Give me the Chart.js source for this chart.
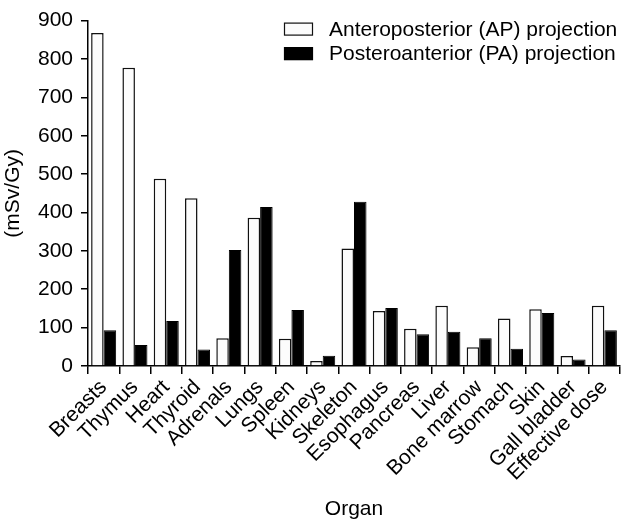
<!DOCTYPE html>
<html>
<head>
<meta charset="utf-8">
<script src="https://cdn.jsdelivr.net/npm/chart.js@4/dist/chart.umd.min.js"></script>
<style>
  html, body { margin: 0; padding: 0; background: #fff; }
  #wrap { width: 624px; height: 522px; }
</style>
</head>
<body>
<div id="wrap"><canvas id="chart" width="624" height="522"></canvas></div>
<script>
// Organ dose conversion coefficients for two projections (mSv/Gy)
const organs = ["Breasts", "Thymus", "Heart", "Thyroid", "Adrenals", "Lungs", "Spleen",
  "Kidneys", "Skeleton", "Esophagus", "Pancreas", "Liver", "Bone marrow", "Stomach",
  "Skin", "Gall bladder", "Effective dose"];
const apValues = [868, 777, 488, 437, 72, 386, 71, 13, 306, 143, 97, 157, 49, 124, 148, 26, 157];
const paValues = [93, 55, 117, 43, 302, 414, 146, 27, 428, 151, 83, 89, 72, 45, 138, 17, 93];
const yTicks = [0, 100, 200, 300, 400, 500, 600, 700, 800, 900];

const FONT = "'Liberation Sans', Arial, Helvetica, sans-serif";

// Boxed legend drawn in the top-right corner of the plot
const boxLegend = {
  id: 'boxLegend',
  afterDraw(chart) {
    const ctx = chart.ctx;
    const x0 = chart.chartArea.right - 336;
    const y0 = chart.chartArea.top + 8.5;
    const rowH = 24.5;
    ctx.save();
    ctx.font = '21px ' + FONT;
    ctx.textBaseline = 'middle';
    ctx.textAlign = 'left';
    chart.data.datasets.forEach((ds, i) => {
      const cy = y0 + i * rowH;
      ctx.fillStyle = ds.backgroundColor;
      ctx.fillRect(x0, cy - 6.5, 29, 13);
      ctx.strokeStyle = ds.borderColor;
      ctx.lineWidth = 1.2;
      ctx.strokeRect(x0 + 0.5, cy - 6.5 + 0.5, 28, 12);
      ctx.fillStyle = '#000';
      ctx.fillText(ds.label, x0 + 45, cy + 1);
    });
    ctx.restore();
  }
};

new Chart(document.getElementById('chart'), {
  type: 'bar',
  data: {
    labels: organs,
    datasets: [
      {
        label: 'Anteroposterior (AP) projection',
        data: apValues,
        backgroundColor: '#fcfcfc',
        borderColor: '#111111',
        borderWidth: 1.5
      },
      {
        label: 'Posteroanterior (PA) projection',
        data: paValues,
        backgroundColor: '#000000',
        borderColor: '#000000',
        borderWidth: 1
      }
    ]
  },
  options: {
    responsive: false,
    animation: false,
    devicePixelRatio: 1,
    layout: { padding: { top: 15, right: 4, left: 0, bottom: 0 } },
    plugins: {
      legend: { display: false },
      tooltip: { enabled: false }
    },
    datasets: {
      bar: { categoryPercentage: 0.8, barPercentage: 1.0 }
    },
    scales: {
      x: {
        grid: {
          display: true,
          drawOnChartArea: false,
          drawTicks: true,
          tickLength: 8,
          color: '#000',
          lineWidth: 1.5,
          offset: true
        },
        border: { display: true, color: '#000', width: 1.5 },
        ticks: {
          color: '#000',
          font: { family: FONT, size: 21 },
          minRotation: 45,
          maxRotation: 45,
          autoSkip: false,
          padding: 1
        },
        title: {
          display: true,
          text: 'Organ',
          color: '#000',
          font: { family: FONT, size: 21 },
          padding: { top: 4, bottom: 0 }
        },
        afterFit(scale) { scale.height = 156; }
      },
      y: {
        min: 0,
        max: 900,
        afterBuildTicks(scale) { scale.ticks = yTicks.map(v => ({ value: v })); },
        grid: {
          display: true,
          drawOnChartArea: false,
          drawTicks: true,
          tickLength: 7,
          color: '#000',
          lineWidth: 1.5
        },
        border: { display: true, color: '#000', width: 1.5 },
        ticks: {
          color: '#000',
          font: { family: FONT, size: 21 },
          padding: 8
        },
        title: {
          display: true,
          text: '(mSv/Gy)',
          color: '#000',
          font: { family: FONT, size: 21 },
          padding: { top: 1, bottom: 2 }
        },
        afterFit(scale) { scale.width = 88; }
      }
    }
  },
  plugins: [boxLegend]
});
</script>
</body>
</html>
